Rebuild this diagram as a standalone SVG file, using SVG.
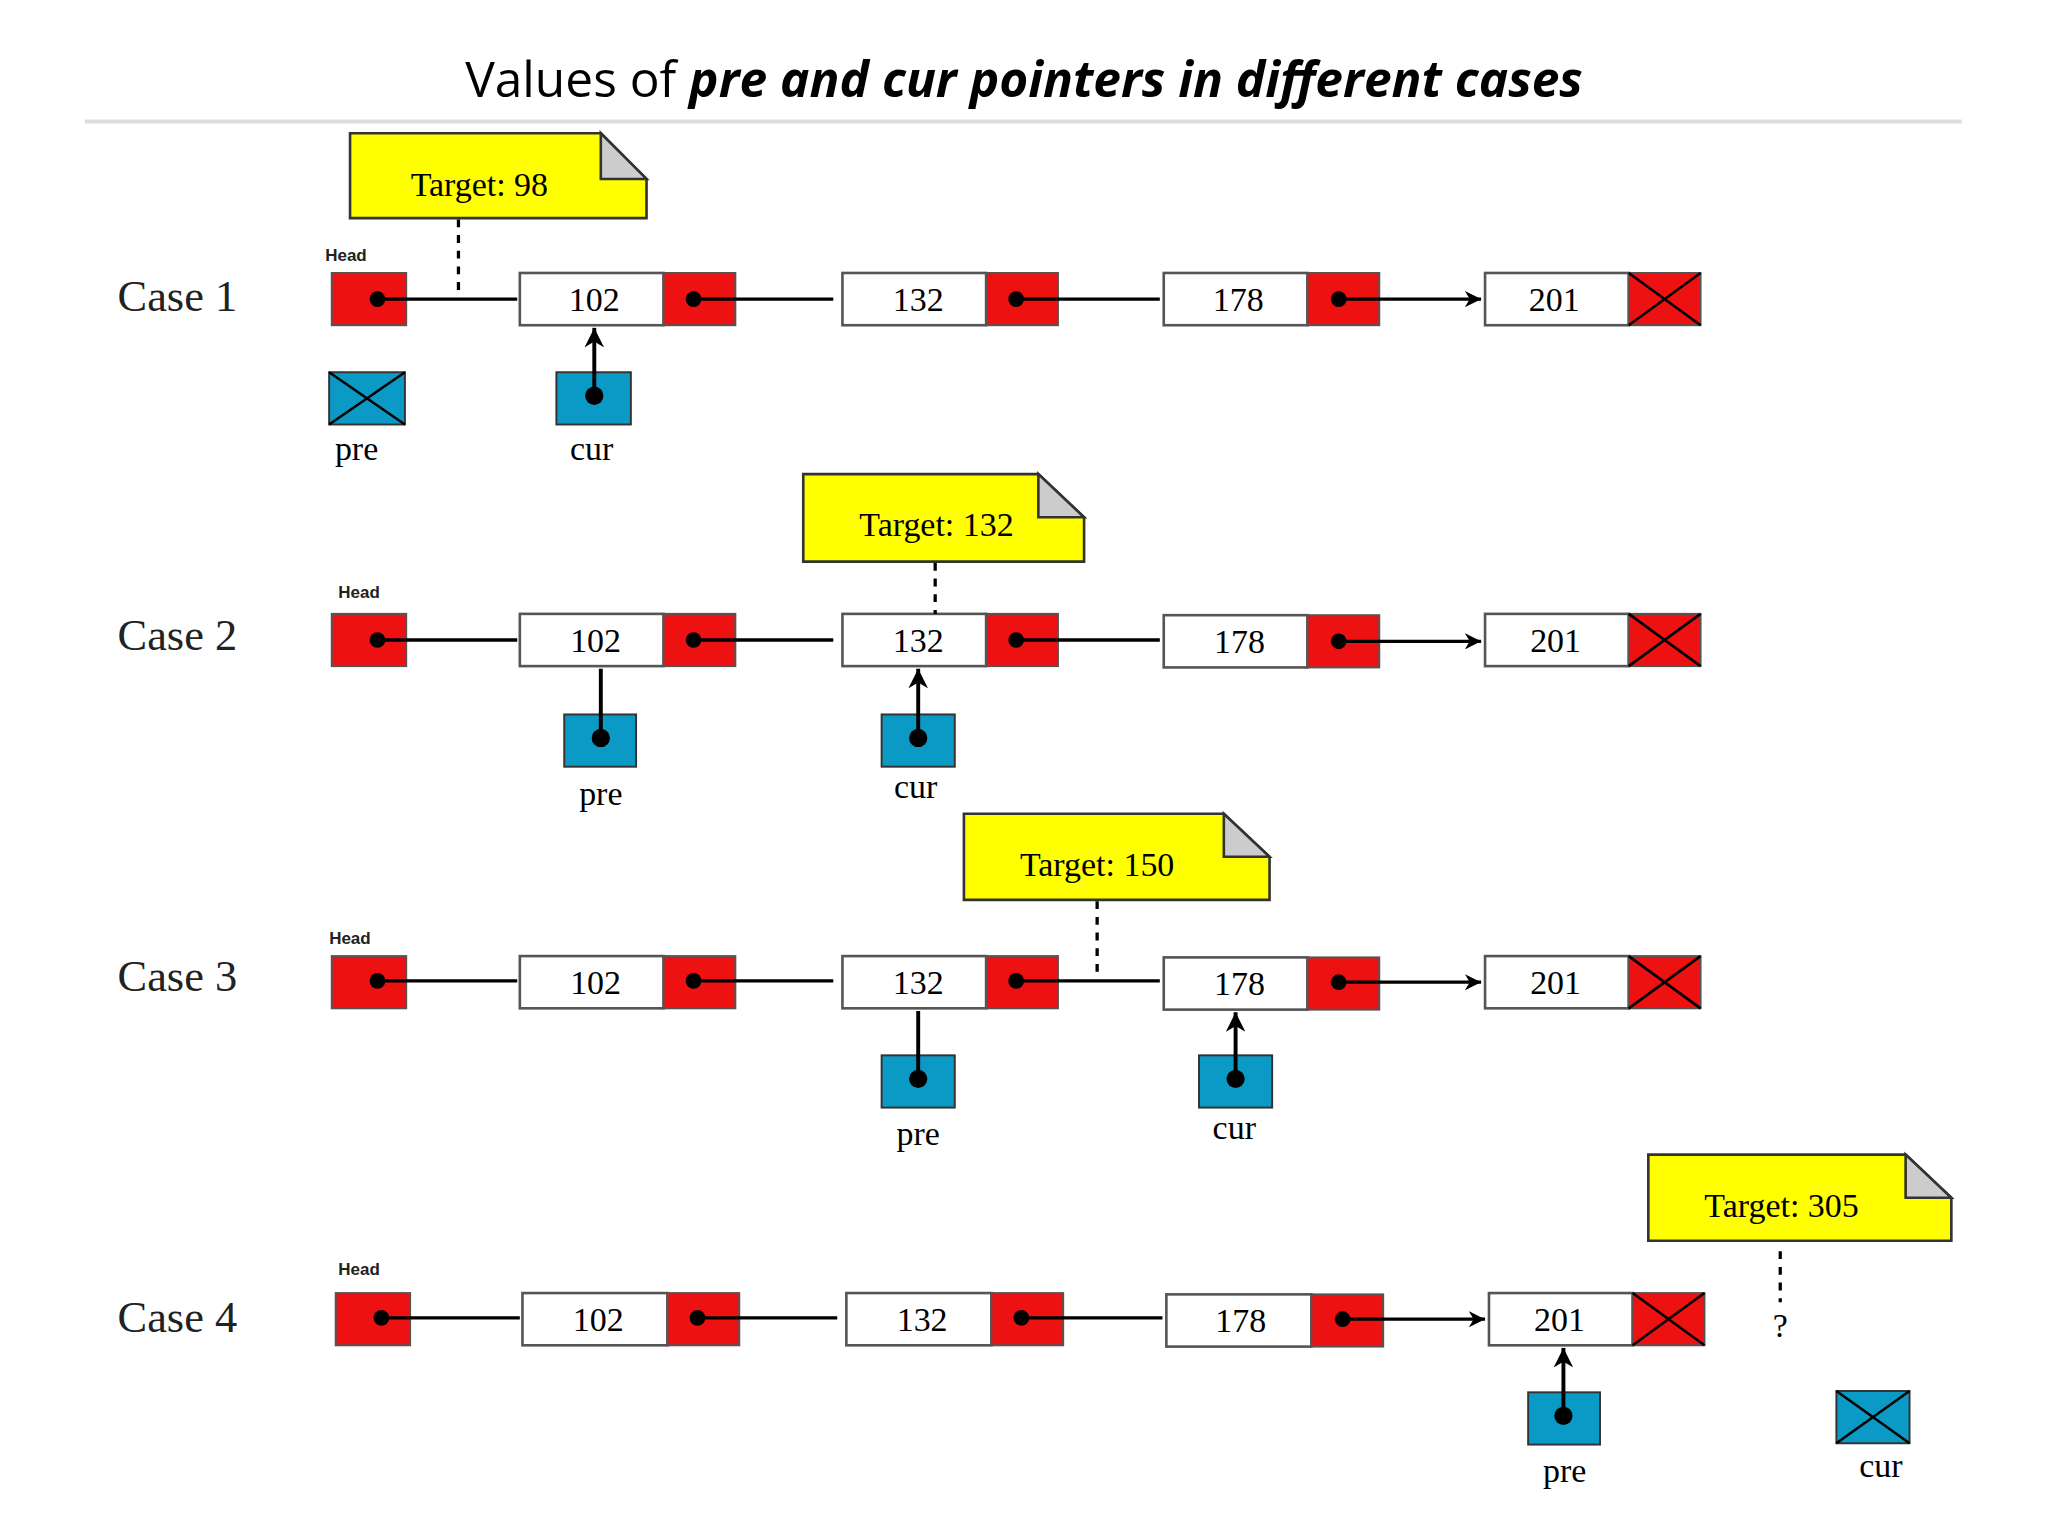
<svg xmlns="http://www.w3.org/2000/svg" width="2048" height="1536" viewBox="0 0 2048 1536">
<defs>
<style>
.d{fill:#fff;stroke:#555;stroke-width:2}
.r{fill:#ee1111;stroke:#555;stroke-width:1.5}
.t{fill:#0b9ac6;stroke:#333;stroke-width:1.5}
.n{fill:#ffff00;stroke:#333;stroke-width:2}
.f{fill:#ccc;stroke:#333;stroke-width:2}
.v{font-family:"Liberation Serif",serif;font-size:26px;text-anchor:middle;fill:#000}
.c{font-family:"Liberation Serif",serif;font-size:34px;fill:#222}
.h{font-family:"Liberation Sans",sans-serif;font-size:13px;font-weight:bold;fill:#222}
.a{stroke:#000;stroke-width:2.5;fill:none;marker-end:url(#ah)}
.p{stroke:#000;stroke-width:3;fill:none;marker-end:url(#ah)}
.dash{stroke:#000;stroke-width:2.5;stroke-dasharray:6,6}
.x{stroke:#000;stroke-width:2}
</style>
<marker id="ah" viewBox="0 0 10 10" refX="10" refY="5" markerWidth="5" markerHeight="5" orient="auto"><path d="M0,0L10,5L0,10L3,5z" fill="#000"/></marker>
</defs>
<rect width="2048" height="1536" fill="#fff"/>
<g transform="scale(1.30612)">
<text x="784" y="74" font-family="Open Sans,sans-serif" font-size="38" text-anchor="middle">Values of <tspan font-weight="bold" font-style="italic">pre and cur pointers in different cases</tspan></text>
<line x1="65" y1="93" x2="1502" y2="93" stroke="#ddd" stroke-width="3"/>

<g id="case1">
<text class="c" x="90" y="238">Case 1</text>
<text class="h" x="249" y="200">Head</text>
<rect class="r" x="254" y="209" width="57" height="40"/><circle cx="289" cy="229" r="6"/>
<rect class="d" x="398" y="209" width="110" height="40"/><text class="v" x="455" y="238">102</text>
<rect class="r" x="508" y="209" width="55" height="40"/><circle cx="531" cy="229" r="6"/>
<rect class="d" x="645" y="209" width="110" height="40"/><text class="v" x="703" y="238">132</text>
<rect class="r" x="755" y="209" width="55" height="40"/><circle cx="778" cy="229" r="6"/>
<rect class="d" x="891" y="209" width="110" height="40"/><text class="v" x="948" y="238">178</text>
<rect class="r" x="1001" y="209" width="55" height="40"/><circle cx="1025" cy="229" r="6"/>
<rect class="d" x="1137" y="209" width="110" height="40"/><text class="v" x="1190" y="238">201</text>
<rect class="r" x="1247" y="209" width="55" height="40"/><path class="x" d="M1247,209L1302,249M1302,209L1247,249"/>
<rect class="t" x="252" y="285" width="58" height="40"/><path class="x" d="M252,285L310,325M310,285L252,325"/>
<text class="v" x="273" y="352">pre</text>
<rect class="t" x="426" y="285" width="57" height="40"/><circle cx="455" cy="303" r="7"/>
<text class="v" x="453" y="352">cur</text>
<path class="n" d="M268,102H460L495,137V167H268Z"/><path class="f" d="M460,102V137H495Z"/>
<text class="v" x="367" y="150">Target: 98</text>
</g>

<g id="case2">
<text class="c" x="90" y="498">Case 2</text>
<text class="h" x="259" y="458">Head</text>
<rect class="r" x="254" y="470" width="57" height="40"/><circle cx="289" cy="490" r="6"/>
<rect class="d" x="398" y="470" width="110" height="40"/><text class="v" x="456" y="499">102</text>
<rect class="r" x="508" y="470" width="55" height="40"/><circle cx="531" cy="490" r="6"/>
<rect class="d" x="645" y="470" width="110" height="40"/><text class="v" x="703" y="499">132</text>
<rect class="r" x="755" y="470" width="55" height="40"/><circle cx="778" cy="490" r="6"/>
<rect class="d" x="891" y="471" width="110" height="40"/><text class="v" x="949" y="500">178</text>
<rect class="r" x="1001" y="471" width="55" height="40"/><circle cx="1025" cy="491" r="6"/>
<rect class="d" x="1137" y="470" width="110" height="40"/><text class="v" x="1191" y="499">201</text>
<rect class="r" x="1247" y="470" width="55" height="40"/><path class="x" d="M1247,470L1302,510M1302,470L1247,510"/>
<rect class="t" x="432" y="547" width="55" height="40"/><circle cx="460" cy="565" r="7"/>
<text class="v" x="460" y="616">pre</text>
<rect class="t" x="675" y="547" width="56" height="40"/><circle cx="703" cy="565" r="7"/>
<text class="v" x="701" y="611">cur</text>
<path class="n" d="M615,363H795L830,396V430H615Z"/><path class="f" d="M795,363V396H830Z"/>
<text class="v" x="717" y="410">Target: 132</text>
</g>

<g id="case3">
<text class="c" x="90" y="759">Case 3</text>
<text class="h" x="252" y="723">Head</text>
<rect class="r" x="254" y="732" width="57" height="40"/><circle cx="289" cy="751" r="6"/>
<rect class="d" x="398" y="732" width="110" height="40"/><text class="v" x="456" y="761">102</text>
<rect class="r" x="508" y="732" width="55" height="40"/><circle cx="531" cy="751" r="6"/>
<rect class="d" x="645" y="732" width="110" height="40"/><text class="v" x="703" y="761">132</text>
<rect class="r" x="755" y="732" width="55" height="40"/><circle cx="778" cy="751" r="6"/>
<rect class="d" x="891" y="733" width="110" height="40"/><text class="v" x="949" y="762">178</text>
<rect class="r" x="1001" y="733" width="55" height="40"/><circle cx="1025" cy="752" r="6"/>
<rect class="d" x="1137" y="732" width="110" height="40"/><text class="v" x="1191" y="761">201</text>
<rect class="r" x="1247" y="732" width="55" height="40"/><path class="x" d="M1247,732L1302,772M1302,732L1247,772"/>
<rect class="t" x="675" y="808" width="56" height="40"/><circle cx="703" cy="826" r="7"/>
<text class="v" x="703" y="877">pre</text>
<rect class="t" x="918" y="808" width="56" height="40"/><circle cx="946" cy="826" r="7"/>
<text class="v" x="945" y="872">cur</text>
<path class="n" d="M738,623H937L972,656V689H738Z"/><path class="f" d="M937,623V656H972Z"/>
<text class="v" x="840" y="671">Target: 150</text>
</g>

<g id="case4">
<text class="c" x="90" y="1020">Case 4</text>
<text class="h" x="259" y="976">Head</text>
<rect class="r" x="257" y="990" width="57" height="40"/><circle cx="292" cy="1009" r="6"/>
<rect class="d" x="400" y="990" width="111" height="40"/><text class="v" x="458" y="1019">102</text>
<rect class="r" x="511" y="990" width="55" height="40"/><circle cx="534" cy="1009" r="6"/>
<rect class="d" x="648" y="990" width="111" height="40"/><text class="v" x="706" y="1019">132</text>
<rect class="r" x="759" y="990" width="55" height="40"/><circle cx="782" cy="1009" r="6"/>
<rect class="d" x="893" y="991" width="111" height="40"/><text class="v" x="950" y="1020">178</text>
<rect class="r" x="1004" y="991" width="55" height="40"/><circle cx="1028" cy="1010" r="6"/>
<rect class="d" x="1140" y="990" width="110" height="40"/><text class="v" x="1194" y="1019">201</text>
<rect class="r" x="1250" y="990" width="55" height="40"/><path class="x" d="M1250,990L1305,1030M1305,990L1250,1030"/>
<rect class="t" x="1170" y="1066" width="55" height="40"/><circle cx="1197" cy="1084" r="7"/>
<text class="v" x="1198" y="1135">pre</text>
<rect class="t" x="1406" y="1065" width="56" height="40"/><path class="x" d="M1406,1065L1462,1105M1462,1065L1406,1105"/>
<text class="v" x="1440" y="1131">cur</text>
<text class="v" x="1363" y="1024" font-size="20">?</text>
<path class="n" d="M1262,884H1459L1494,917V950H1262Z"/><path class="f" d="M1459,884V917H1494Z"/>
<text class="v" x="1364" y="932">Target: 305</text>
</g>

<g id="connectors">
<path class="a" d="M289,229H396M531,229H638M778,229H888M1025,229H1134"/>
<path class="p" d="M455,303V251"/>
<line class="dash" x1="351" y1="168" x2="351" y2="228"/>
<path class="a" d="M289,490H396M531,490H638M778,490H888M1025,491H1134"/>
<path class="p" d="M460,565V512M703,565V512"/>
<line class="dash" x1="716" y1="431" x2="716" y2="470"/>
<path class="a" d="M289,751H396M531,751H638M778,751H888M1025,752H1134"/>
<path class="p" d="M703,826V774M946,826V775"/>
<line class="dash" x1="840" y1="690" x2="840" y2="750"/>
<path class="a" d="M292,1009H398M534,1009H641M782,1009H890M1028,1010H1137"/>
<path class="p" d="M1197,1084V1032"/>
<line class="dash" x1="1363" y1="958" x2="1363" y2="997"/>
</g>
</g>
</svg>
